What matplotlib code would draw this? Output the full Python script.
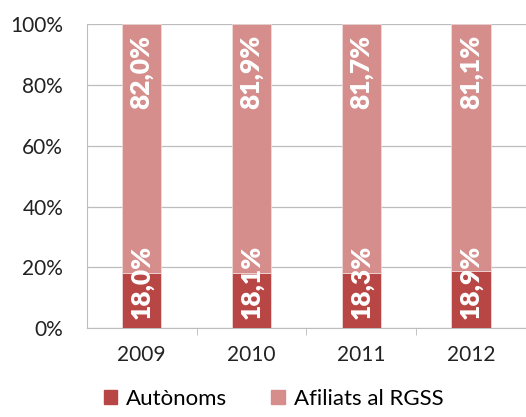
import matplotlib
matplotlib.use("Agg")
import matplotlib.pyplot as plt
from matplotlib.ticker import FuncFormatter
from matplotlib.patches import Patch

plt.rcParams['font.family'] = ['Lato', 'DejaVu Sans']

years = ["2009", "2010", "2011", "2012"]
autonoms = [18.0, 18.1, 18.3, 18.9]
afiliats = [82.0, 81.9, 81.7, 81.1]

dark = "#B84644"
light = "#D58E8C"

fig = plt.figure(figsize=(5.26, 4.17), dpi=100)
ax = fig.add_axes([0.165, 0.213, 0.835, 0.729])

x = list(range(len(years)))
w = 0.36
ax.bar(x, autonoms, width=w, color=dark, edgecolor="#f2dede", linewidth=0.5, zorder=3)
ax.bar(x, afiliats, width=w, bottom=autonoms, color=light, edgecolor="#f2dede", linewidth=0.5, zorder=3)

def fmt(v):
    return f"{v:.1f}%".replace(".", ",")

for xi, a, b in zip(x, autonoms, afiliats):
    ax.text(xi, 3.0, fmt(a), rotation=90, ha="center", va="bottom",
            color="white", fontsize=19, fontweight="heavy", zorder=4)
    ax.text(xi, 96.5, fmt(b), rotation=90, ha="center", va="top",
            color="white", fontsize=19, fontweight="heavy", zorder=4)

ax.set_xlim(-0.5, 3.5)
ax.set_ylim(0, 100)
ax.set_yticks([0, 20, 40, 60, 80, 100])
ax.yaxis.set_major_formatter(FuncFormatter(lambda v, p: f"{int(v)}%"))
ax.set_xticks(x)
ax.set_xticklabels(years)
ax.set_xticks([0.5, 1.5, 2.5], minor=True)
ax.tick_params(axis="x", which="major", length=0, pad=12, labelsize=15, colors="#222222")
ax.tick_params(axis="x", which="minor", length=5, color="#bbbbbb")
ax.tick_params(axis="y", length=0, pad=17, labelsize=15, colors="#222222")
ax.grid(axis="y", color="#bdbdbd", linewidth=0.9, zorder=0)
for s in ["top", "right"]:
    ax.spines[s].set_visible(False)
ax.spines["left"].set_color("#bdbdbd")
ax.spines["bottom"].set_color("#bdbdbd")

handles = [Patch(color=dark, label="Autònoms"), Patch(color=light, label="Afiliats al RGSS")]
fig.legend(handles=handles, loc="center", bbox_to_anchor=(0.52, 0.044), ncol=2, frameon=False,
           fontsize=16, handlelength=0.6, handleheight=0.6, columnspacing=2.0, handletextpad=0.4)

fig.savefig("out.png", dpi=100)
